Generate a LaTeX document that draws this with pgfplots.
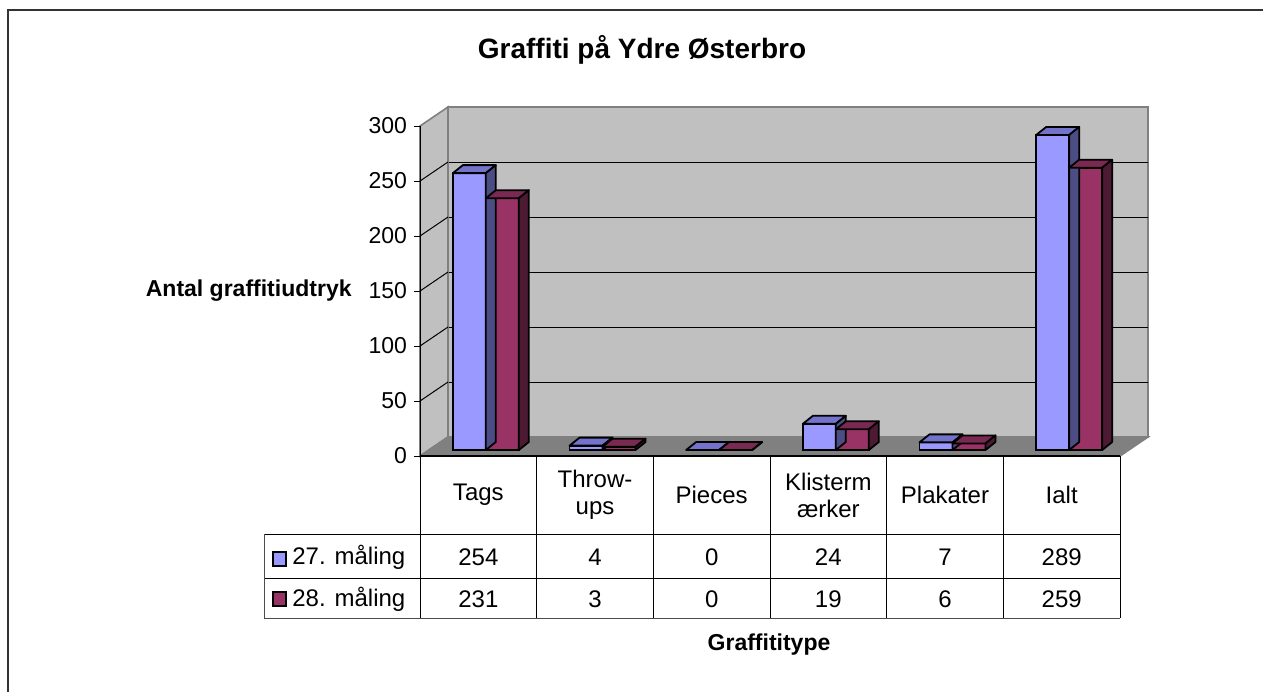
\documentclass[border=0pt]{standalone}
\usepackage{fontspec}
\setmainfont{Liberation Sans}
\usepackage{pgfplots}
\pgfplotsset{compat=1.18}
\definecolor{wall}{HTML}{C0C0C0}
\definecolor{floorc}{HTML}{808080}
\definecolor{edge}{HTML}{808080}
\definecolor{bfront}{HTML}{9999FF}
\definecolor{btop}{HTML}{7373CC}
\definecolor{bside}{HTML}{4D4D85}
\definecolor{rfront}{HTML}{993366}
\definecolor{rtop}{HTML}{7A2952}
\definecolor{rside}{HTML}{4D1A33}
\pgfdeclareplotmark{nothing}{}
\pgfplotsset{
  faces/.style n args={3}{
    only marks, mark=nothing, scatter,
    visualization depends on={rawy \as \yv},
    scatter/@pre marker code/.code={%
      \pgfmathsetlengthmacro\hbot{-\yv*0.545pt}%
      \pgfmathsetlengthmacro\htop{4pt-\yv*0.545pt}%
      \pgfmathsetlengthmacro\xa{#1-8.25pt}%
      \pgfmathsetlengthmacro\xb{#1+8.25pt}%
      \pgfmathsetlengthmacro\xc{#1+13.25pt}%
      \pgfmathsetlengthmacro\xd{#1-3.25pt}%
      \filldraw[fill=#2,draw=black,line width=0.9pt,line join=round] (\xa,0pt) -- (\xb,0pt) -- (\xc,4pt) -- (\xd,4pt) -- cycle;
      \filldraw[fill=#3,draw=black,line width=0.9pt,line join=round] (\xb,0pt) -- (\xc,4pt) -- (\xc,\htop) -- (\xb,\hbot) -- cycle;
      },
    scatter/@post marker code/.code={},
  },
}
\newcommand\tabfont{\fontsize{12}{13.5}\selectfont}
\newcommand\tickfont{\fontsize{11.5}{13.5}\selectfont}
\newcommand\lblfont{\fontsize{11.5}{13.5}\selectfont\bfseries}
\begin{document}
\begin{tikzpicture}
\useasboundingbox (0,0) rectangle (631.5pt,-345.5pt);
% outer frame
\draw[black!80,line width=0.6pt] (4pt,-360pt) -- (4pt,-5pt) -- (650pt,-5pt);
% back wall
\begin{axis}[at={(224pt,-218.5pt)}, anchor=south west, scale only axis,
  width=350pt, height=165pt, xmin=-0.5, xmax=5.5, ymin=0, ymax=300,
  xtick=\empty, ytick=\empty,
  axis background/.style={fill=wall}, axis line style={edge, line width=0.8pt}, clip=false]
\pgfplotsinvokeforeach{50,100,150,200,250}{\draw[black,line width=0.5pt] (axis cs:-0.5,#1) -- (axis cs:5.5,#1);}
\end{axis}
% left wall and floor
\filldraw[fill=wall,draw=edge,line width=0.8pt] (210pt,-228pt) -- (210pt,-63pt) -- (224pt,-53.5pt) -- (224pt,-218.5pt) -- cycle;
\filldraw[fill=floorc,draw=edge,line width=0.8pt] (210pt,-228pt) -- (560pt,-228pt) -- (574pt,-218.5pt) -- (224pt,-218.5pt) -- cycle;
% front plane with y axis
\begin{axis}[at={(210pt,-228pt)}, anchor=south west, scale only axis,
  width=350pt, height=165pt, xmin=-0.5, xmax=5.5, ymin=0, ymax=300,
  axis x line=none, axis y line*=left, ytick={0,50,...,300},
  tick align=outside, major tick length=3pt, tick style={black, line width=0.5pt},
  axis line style={black, line width=0.5pt},
  yticklabel style={font=\tickfont},
  /pgf/number format/assume math mode=true, clip=false]
\pgfplotsinvokeforeach{50,100,150,200,250}{\draw[black,line width=0.5pt] (axis cs:-0.5,#1) -- ++(14pt,9.5pt);}
\end{axis}
% bars
\begin{axis}[at={(213.75pt,-225pt)}, anchor=south west, scale only axis,
  width=350pt, height=163.5pt, xmin=-0.5, xmax=5.5, ymin=0, ymax=300,
  hide axis, clip=false]
\addplot[ybar, bar width=16.5pt, bar shift=-8.25pt, fill=bfront, draw=black, line width=0.9pt]
  coordinates {(0,254) (1,4) (2,0) (3,24) (4,7) (5,289)};
\addplot[faces={-8.25pt}{btop}{bside}]
  coordinates {(0,254) (1,4) (2,0) (3,24) (4,7) (5,289)};
\addplot[ybar, bar width=16.5pt, bar shift=8.25pt, fill=rfront, draw=black, line width=0.9pt]
  coordinates {(0,231) (1,3) (2,0) (3,19) (4,6) (5,259)};
\addplot[faces={8.25pt}{rtop}{rside}]
  coordinates {(0,231) (1,3) (2,0) (3,19) (4,6) (5,259)};
\end{axis}
% data table
\draw[black,line width=0.6pt] (210pt,-228pt) -- (560pt,-228pt);
\draw[black,line width=0.5pt] (132pt,-267pt) -- (560pt,-267pt);
\draw[black,line width=0.5pt] (132pt,-289pt) -- (560pt,-289pt);
\draw[black!70,line width=0.5pt] (132pt,-309pt) -- (560pt,-309pt);
\draw[black!70,line width=0.5pt] (132pt,-267pt) -- (132pt,-309pt);
\foreach \i in {0,...,6}{\draw[black,line width=0.5pt] ({210pt+58.333pt*\i},-228pt) -- ({210pt+58.333pt*\i},-309pt);}
\node[align=center,font=\tabfont] at ({210pt+58.333pt*0.5},-247.5pt) {Tags};
\node[align=center,font=\tabfont] at ({210pt+58.333pt*1.5},-247.5pt) {Throw-\\ups};
\node[align=center,font=\tabfont] at ({210pt+58.333pt*2.5},-247.5pt) {Pieces};
\node[align=center,font=\tabfont] at ({210pt+58.333pt*3.5},-247.5pt) {Klisterm\\ærker};
\node[align=center,font=\tabfont] at ({210pt+58.333pt*4.5},-247.5pt) {Plakater};
\node[align=center,font=\tabfont] at ({210pt+58.333pt*5.5},-247.5pt) {Ialt};
\foreach \v [count=\i from 0] in {254,4,0,24,7,289}{\node[font=\tabfont] at ({210pt+58.333pt*(\i+0.5)},-278.5pt) {\v};}
\foreach \v [count=\i from 0] in {231,3,0,19,6,259}{\node[font=\tabfont] at ({210pt+58.333pt*(\i+0.5)},-299.5pt) {\v};}
\filldraw[fill=bfront,draw=black,line width=0.6pt] (136.5pt,-283pt) rectangle (143pt,-276pt);
\filldraw[fill=rfront,draw=black,line width=0.6pt] (136.5pt,-303pt) rectangle (143pt,-296pt);
\node[font=\tabfont,anchor=west,inner sep=0pt] at (146pt,-278.5pt) {27. måling};
\node[font=\tabfont,anchor=west,inner sep=0pt] at (146pt,-299.5pt) {28. måling};
% titles
\node[font=\fontsize{14}{16}\selectfont\bfseries] at (321pt,-25pt) {Graffiti på Ydre Østerbro};
\node[font=\lblfont,anchor=east,inner sep=0pt] at (176pt,-145.5pt) {Antal graffitiudtryk};
\node[font=\lblfont] at (384.5pt,-322.5pt) {Graffititype};
\end{tikzpicture}
\end{document}
